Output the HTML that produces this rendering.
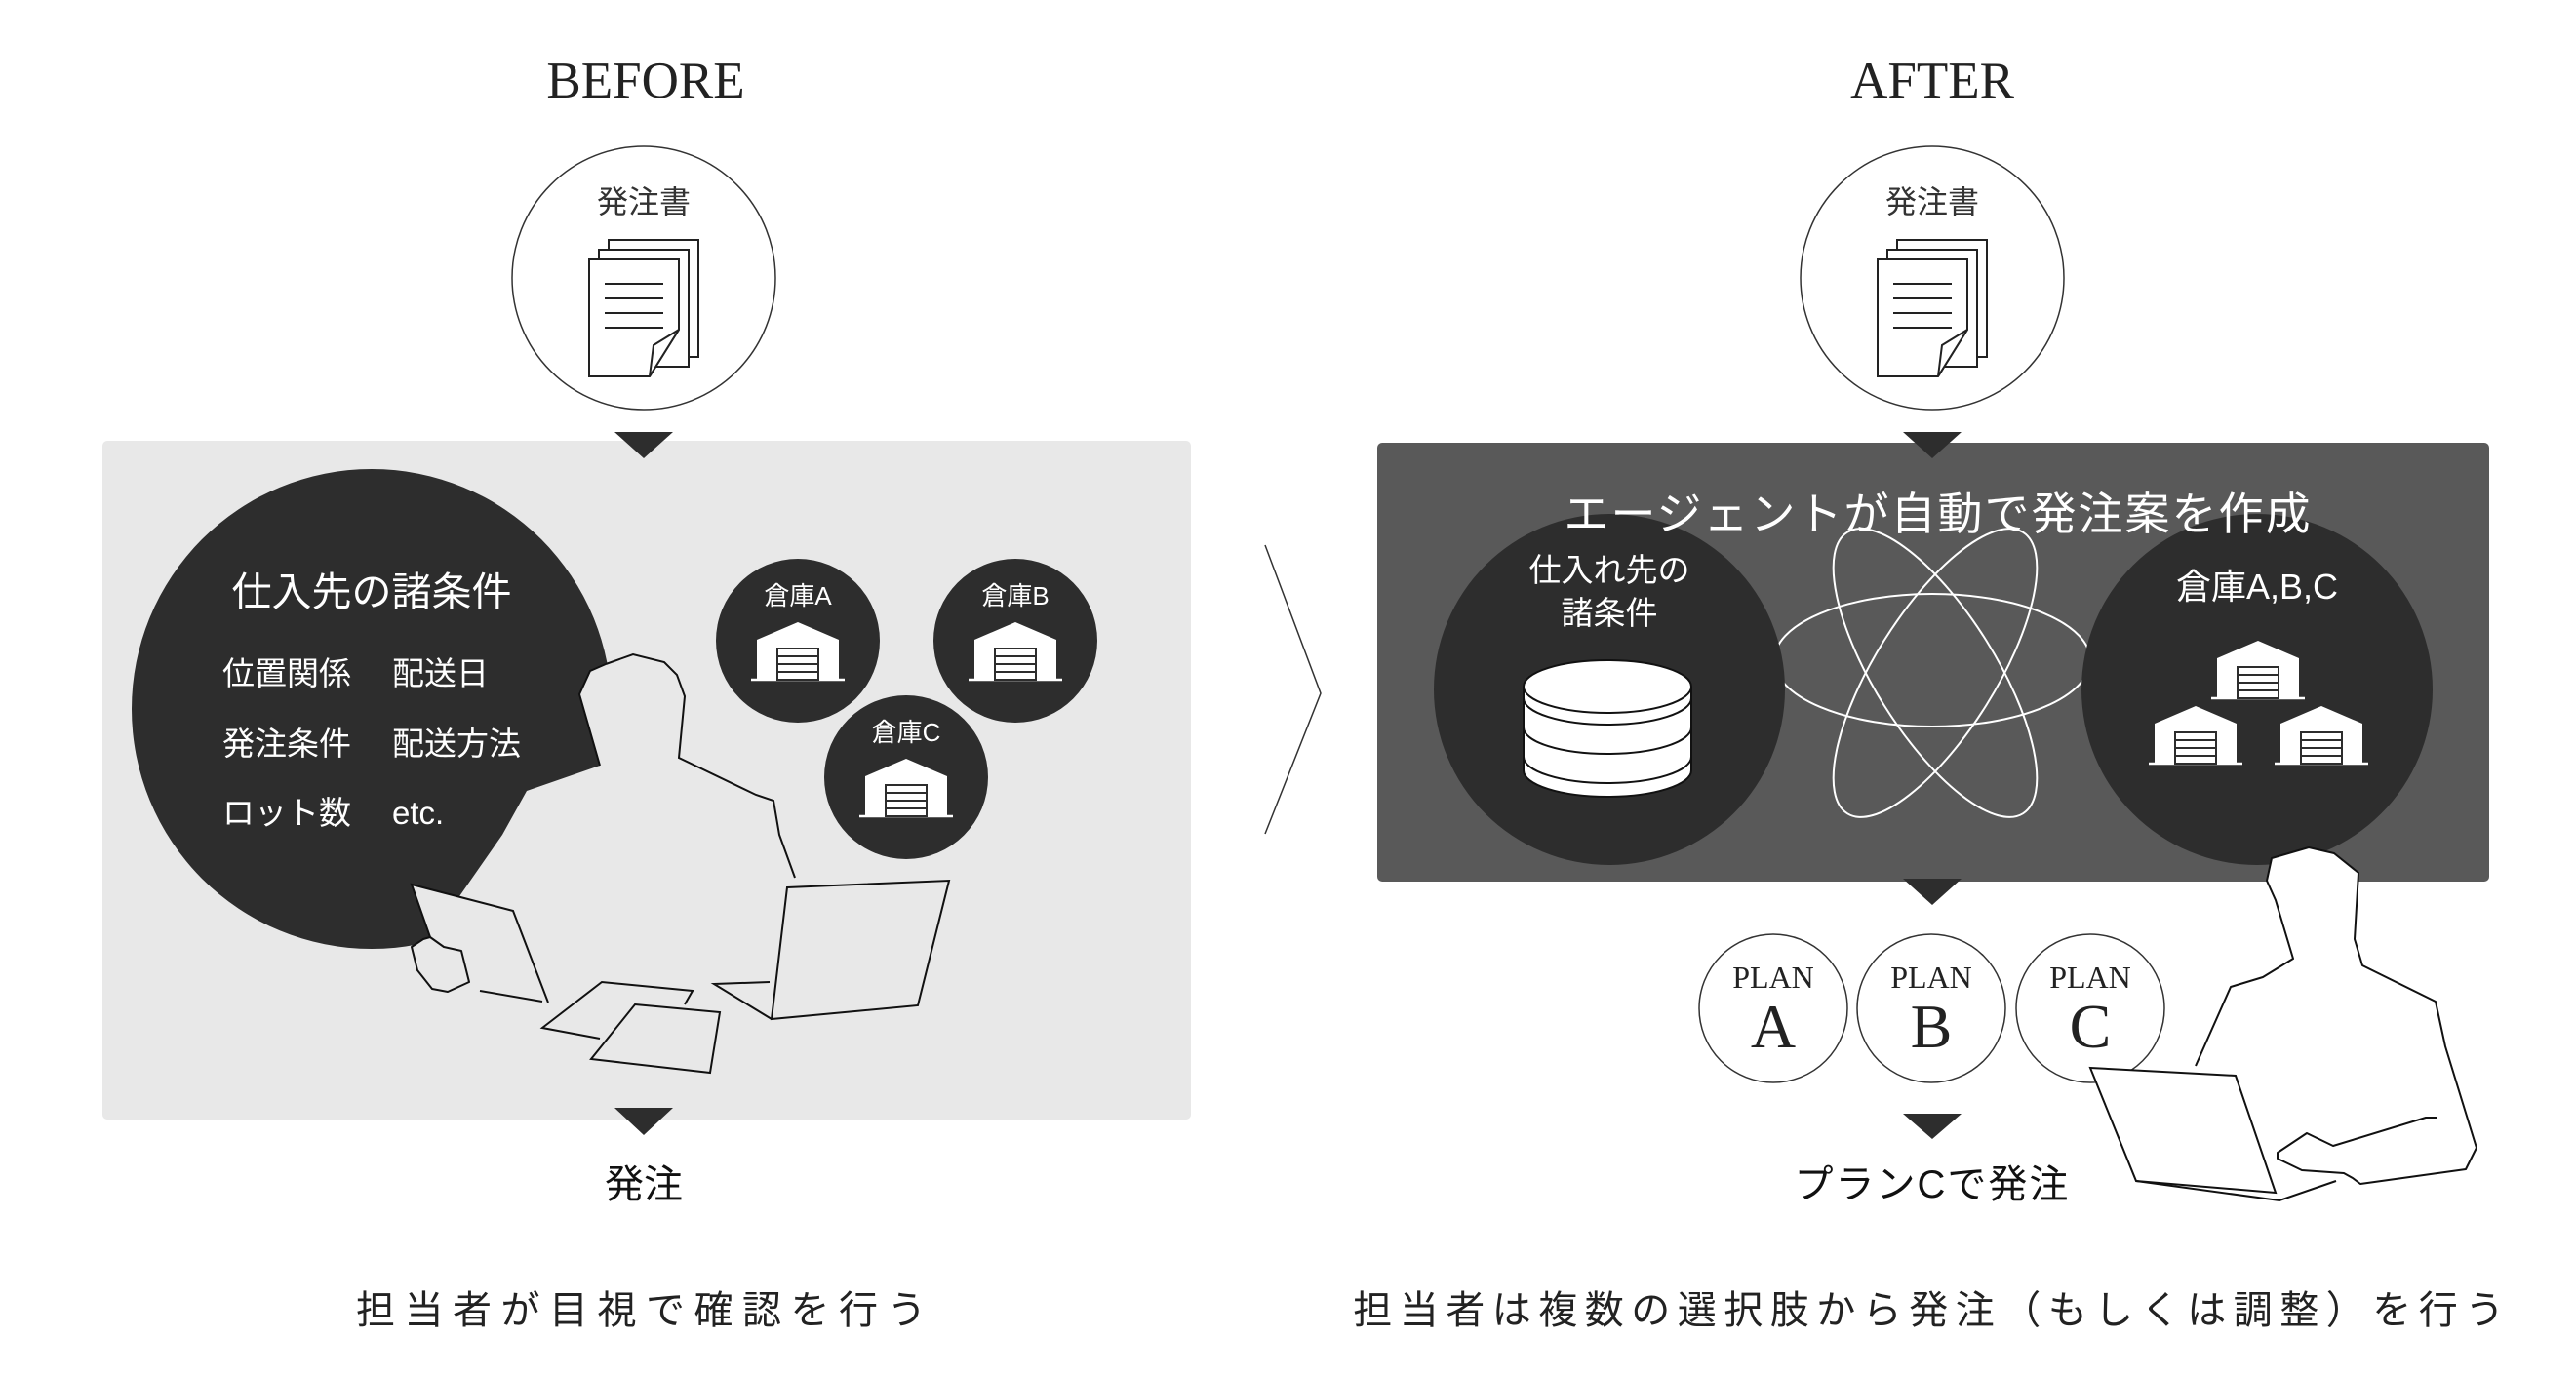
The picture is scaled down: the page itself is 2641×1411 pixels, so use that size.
<!DOCTYPE html>
<html><head><meta charset="utf-8">
<style>
html,body{margin:0;padding:0;background:#fff;}
svg{display:block;}
.jp{font-family:"Liberation Sans","Noto Sans CJK JP",sans-serif;}
.sf{font-family:"Liberation Serif",serif;}
</style></head>
<body>
<svg width="2641" height="1411" viewBox="0 0 2641 1411" xmlns="http://www.w3.org/2000/svg">
<defs>
  <g id="wh">
    <line x1="-48" y1="0" x2="48" y2="0" stroke="#fff" stroke-width="2.5"/>
    <polygon points="-42,0 -42,-41 0,-59 42,-41 42,0" fill="#fff"/>
    <rect x="-21" y="-32" width="42" height="32" fill="#fff" stroke="#2d2d2d" stroke-width="2"/>
    <line x1="-21" y1="-24" x2="21" y2="-24" stroke="#2d2d2d" stroke-width="2"/>
    <line x1="-21" y1="-16" x2="21" y2="-16" stroke="#2d2d2d" stroke-width="2"/>
    <line x1="-21" y1="-8" x2="21" y2="-8" stroke="#2d2d2d" stroke-width="2"/>
  </g>
  <g id="doc">
    <rect x="20" y="-20" width="92" height="120" fill="#fff" stroke="#222" stroke-width="2"/>
    <rect x="10" y="-10" width="92" height="120" fill="#fff" stroke="#222" stroke-width="2"/>
    <polygon points="0,0 92,0 92,72 62,120 0,120" fill="#fff" stroke="#222" stroke-width="2"/>
    <polygon points="62,120 66,88 92,72" fill="#fff" stroke="#222" stroke-width="2"/>
    <line x1="16" y1="25" x2="76" y2="25" stroke="#222" stroke-width="2"/>
    <line x1="16" y1="40" x2="76" y2="40" stroke="#222" stroke-width="2"/>
    <line x1="16" y1="55" x2="76" y2="55" stroke="#222" stroke-width="2"/>
    <line x1="16" y1="70" x2="76" y2="70" stroke="#222" stroke-width="2"/>
  </g>
</defs>

<!-- ===== BEFORE ===== -->
<text x="662" y="100" text-anchor="middle" class="sf" font-size="53" fill="#222">BEFORE</text>
<circle cx="660" cy="285" r="135" fill="#fff" stroke="#333" stroke-width="1.5"/>
<text x="660" y="218" text-anchor="middle" class="jp" font-size="32" fill="#333">発注書</text>
<use href="#doc" x="604" y="266"/>

<rect x="105" y="452" width="1116" height="696" rx="5" fill="#e8e8e8"/>
<polygon points="630,443 690,443 660,470" fill="#2d2d2d"/>

<circle cx="381" cy="727" r="246" fill="#2d2d2d"/>

<!-- person left -->
<polygon points="621,681 649,671 681,679 694,692 702,714 696,777 775,815 793,821 799,856 815,900 815,1060 469,1060 469,922 515,856 540,811 615,785 594,712 605,688" fill="#e8e8e8"/>
<polyline points="621,681 649,671 681,679 694,692 702,714 696,777 775,815 793,821 799,856 815,900" fill="none" stroke="#111" stroke-width="2"/>
<polyline points="615,785 594,712 605,688 621,681" fill="none" stroke="#111" stroke-width="2"/>
<polygon points="422,907 526,934 562,1028 492,1016 441,961" fill="#e8e8e8"/>
<polyline points="441,961 422,907 526,934 562,1028" fill="none" stroke="#111" stroke-width="2"/>
<line x1="492" y1="1016" x2="556" y2="1027" stroke="#111" stroke-width="2"/>
<polygon points="441,961 434,963 422,971 428,995 443,1014 459,1017 481,1007 473,975 455,971" fill="#e8e8e8" stroke="#111" stroke-width="2" stroke-linejoin="round"/>
<polyline points="615,1065 556,1054 617,1007 710,1016 702,1030" fill="none" stroke="#111" stroke-width="2"/>
<polygon points="651,1030 738,1038 728,1100 606,1086" fill="#e8e8e8" stroke="#111" stroke-width="2"/>
<polygon points="807,910 973,903 941,1031 791,1045" fill="#e8e8e8" stroke="#111" stroke-width="2"/>
<polyline points="789,1007 732,1009 791,1045" fill="none" stroke="#111" stroke-width="2"/>

<text x="381" y="621" text-anchor="middle" class="jp" font-size="41" fill="#fff">仕入先の諸条件</text>
<g class="jp" font-size="33" fill="#fff">
<text x="228" y="702">位置関係</text><text x="402" y="702">配送日</text>
<text x="228" y="774">発注条件</text><text x="402" y="774">配送方法</text>
<text x="228" y="845">ロット数</text><text x="402" y="845">etc.</text>
</g>

<circle cx="818" cy="657" r="84" fill="#2d2d2d"/>
<circle cx="1041" cy="657" r="84" fill="#2d2d2d"/>
<circle cx="929" cy="797" r="84" fill="#2d2d2d"/>
<g class="jp" font-size="26" fill="#fff" text-anchor="middle">
<text x="818" y="620">倉庫A</text><text x="1041" y="620">倉庫B</text><text x="929" y="760">倉庫C</text>
</g>
<use href="#wh" x="818" y="697"/>
<use href="#wh" x="1041" y="697"/>
<use href="#wh" x="929" y="837"/>

<polygon points="630,1136 690,1136 660,1164" fill="#2d2d2d"/>
<text x="660" y="1228" text-anchor="middle" class="jp" font-size="40" fill="#111">発注</text>
<text x="662" y="1357" text-anchor="middle" class="jp" font-size="40" letter-spacing="9.5" fill="#222">担当者が目視で確認を行う</text>

<polyline points="1297,559 1354,711 1297,855" fill="none" stroke="#333" stroke-width="1.5"/>

<!-- ===== AFTER ===== -->
<rect x="1412" y="454" width="1140" height="450" rx="5" fill="#595959"/>

<g transform="translate(-9,0)">
<text x="1990" y="100" text-anchor="middle" class="sf" font-size="53" fill="#222">AFTER</text>
<circle cx="1990" cy="285" r="135" fill="#fff" stroke="#333" stroke-width="1.5"/>
<text x="1990" y="218" text-anchor="middle" class="jp" font-size="32" fill="#333">発注書</text>
<use href="#doc" x="1934" y="266"/>
<polygon points="1960,443 2020,443 1990,470" fill="#2d2d2d"/>

<g fill="none" stroke="#fff" stroke-width="2">
<ellipse cx="1990" cy="677" rx="162" ry="68"/>
<ellipse cx="1993" cy="690" rx="62" ry="170" transform="rotate(32 1993 690)"/>
<ellipse cx="1993" cy="690" rx="62" ry="170" transform="rotate(-32 1993 690)"/>
</g>
<circle cx="1659" cy="707" r="180" fill="#2d2d2d"/>
<circle cx="2323" cy="707" r="180" fill="#2d2d2d"/>

<text x="1996" y="543" text-anchor="middle" class="jp" font-size="46" letter-spacing="2" fill="#fff">エージェントが自動で発注案を作成</text>
<text x="1659" y="596" text-anchor="middle" class="jp" font-size="33" fill="#fff">仕入れ先の</text>
<text x="1659" y="640" text-anchor="middle" class="jp" font-size="33" fill="#fff">諸条件</text>
<text x="2323" y="614" text-anchor="middle" class="jp" font-size="36" fill="#fff">倉庫A,B,C</text>

<g fill="#fff" stroke="#111" stroke-width="2">
<path d="M1571,776 L1571,790 A86,27 0 0 0 1743,790 L1743,776"/>
<path d="M1571,746 L1571,776 A86,27 0 0 0 1743,776 L1743,746"/>
<path d="M1571,716 L1571,746 A86,27 0 0 0 1743,746 L1743,716"/>
<path d="M1571,704 L1571,716 A86,27 0 0 0 1743,716 L1743,704"/>
<ellipse cx="1657" cy="704" rx="86" ry="27"/>
</g>

<use href="#wh" x="2324" y="716"/>
<use href="#wh" x="2260" y="783"/>
<use href="#wh" x="2389" y="783"/>

<polygon points="1960,901 2020,901 1990,928" fill="#2d2d2d"/>
</g>

<!-- right person -->
<polygon points="2324,903 2329,880 2367,869 2393,875 2418,895 2414,963 2422,990 2497,1027 2507,1073 2539,1177 2528,1199 2420,1214 2337,1231 2190,1211 2251,1093 2287,1012 2320,1002 2351,983 2333,923" fill="#fff"/>
<polyline points="2251,1093 2287,1012 2320,1002 2351,983 2333,923 2324,903 2329,880 2367,869 2393,875 2418,895 2414,963 2422,990 2497,1027 2507,1073 2539,1177 2528,1199 2420,1214 2412,1208 2403,1203 2360,1200 2335,1188 2335,1182 2365,1162 2392,1175 2487,1146 2498,1146" fill="none" stroke="#111" stroke-width="2" stroke-linejoin="round"/>

<g transform="translate(-9,0)">
<g fill="#fff" stroke="#333" stroke-width="1.5">
<circle cx="1827" cy="1034" r="76"/>
<circle cx="1989" cy="1034" r="76"/>
<circle cx="2152" cy="1034" r="76"/>
</g>
<g class="sf" fill="#222" text-anchor="middle">
<text x="1827" y="1013" font-size="32">PLAN</text><text x="1827" y="1074" font-size="64">A</text>
<text x="1989" y="1013" font-size="32">PLAN</text><text x="1989" y="1074" font-size="64">B</text>
<text x="2152" y="1013" font-size="32">PLAN</text><text x="2152" y="1074" font-size="64">C</text>
</g>
</g>

<polygon points="2143,1095 2292,1103 2333,1223 2190,1211" fill="#fff" stroke="#111" stroke-width="2"/>
<polyline points="2190,1211 2337,1231 2395,1211" fill="none" stroke="#111" stroke-width="2"/>

<g transform="translate(-9,0)">
<polygon points="1960,1142 2020,1142 1990,1168" fill="#2d2d2d"/>
<text x="1990" y="1228" text-anchor="middle" class="jp" font-size="40" letter-spacing="2" fill="#111">プランCで発注</text>
<text x="1990" y="1357" text-anchor="middle" class="jp" font-size="40" letter-spacing="7.5" fill="#222">担当者は複数の選択肢から発注（もしくは調整）を行う</text>
</g>
</svg>
</body></html>
